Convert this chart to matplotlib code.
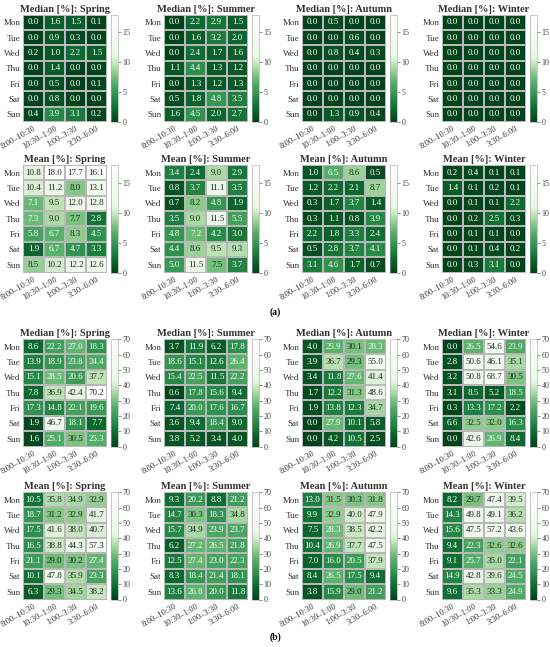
import numpy as np
import matplotlib.pyplot as plt
from matplotlib.colors import LinearSegmentedColormap, Normalize

plt.rcParams['font.family'] = ['Liberation Serif', 'DejaVu Serif']

days = ["Mon", "Tue", "Wed", "Thu", "Fri", "Sat", "Sun"]
slots = ["8:00–10:30", "10:30–1:00", "1:00–3:30", "3:30–6:00"]
seasons = ["Spring", "Summer", "Autumn", "Winter"]

# (a) median
a_median_spring = [[0.0, 1.6, 1.5, 0.1], [0.0, 0.9, 0.3, 0.0], [0.2, 1.0, 2.2, 1.5], [0.0, 1.4, 0.0, 0.0],
                   [0.0, 0.5, 0.0, 0.1], [0.0, 0.8, 0.0, 0.0], [0.4, 3.9, 3.1, 0.2]]
a_median_summer = [[0.0, 2.2, 2.9, 1.5], [0.0, 1.6, 3.2, 2.0], [0.0, 2.4, 1.7, 1.6], [1.1, 4.4, 1.3, 1.2],
                   [0.0, 1.3, 1.2, 1.3], [0.5, 1.8, 4.8, 3.5], [1.6, 4.5, 2.0, 2.7]]
a_median_autumn = [[0.0, 0.5, 0.0, 0.0], [0.0, 0.0, 0.6, 0.0], [0.0, 0.8, 0.4, 0.3], [0.0, 0.0, 0.0, 0.0],
                   [0.0, 0.0, 0.0, 0.0], [0.0, 0.0, 0.0, 0.0], [0.0, 1.3, 0.9, 0.4]]
a_median_winter = [[0.0, 0.0, 0.0, 0.0]] * 7

# (a) mean
a_mean_spring = [[10.8, 18.0, 17.7, 16.1], [10.4, 11.2, 8.0, 13.1], [7.1, 9.5, 12.0, 12.8], [7.3, 9.0, 7.7, 2.8],
                 [5.8, 6.7, 8.3, 4.5], [1.9, 6.7, 4.7, 3.3], [8.5, 10.2, 12.2, 12.6]]
a_mean_summer = [[3.4, 2.4, 9.0, 2.9], [0.8, 3.7, 11.1, 3.5], [0.7, 8.2, 4.8, 1.9], [3.5, 9.0, 11.5, 5.5],
                 [4.8, 7.2, 4.2, 3.0], [4.4, 8.6, 9.5, 9.3], [5.0, 11.5, 7.5, 3.7]]
a_mean_autumn = [[1.0, 6.5, 8.6, 0.5], [1.2, 2.2, 2.1, 8.7], [0.3, 1.7, 3.7, 1.4], [0.3, 1.1, 0.8, 3.9],
                 [2.2, 1.8, 3.3, 2.4], [0.5, 2.8, 3.7, 4.1], [3.1, 4.6, 1.7, 0.7]]
a_mean_winter = [[0.2, 0.4, 0.1, 0.1], [1.4, 0.1, 0.2, 0.1], [0.0, 0.1, 0.1, 2.2], [0.0, 0.2, 2.5, 0.3],
                 [0.0, 0.1, 0.1, 0.0], [0.0, 0.1, 0.4, 0.2], [0.0, 0.3, 3.1, 0.0]]

# (b) median
b_median_spring = [[8.6, 22.2, 27.0, 18.3], [13.9, 18.9, 23.8, 24.4], [15.1, 28.5, 20.6, 37.7], [7.8, 36.9, 42.4, 70.2],
                   [17.3, 14.8, 22.1, 19.6], [1.9, 46.7, 18.1, 7.7], [1.6, 25.1, 30.5, 25.3]]
b_median_summer = [[3.7, 11.9, 6.2, 17.8], [18.6, 15.1, 12.6, 26.4], [15.4, 22.5, 11.5, 22.2], [0.6, 17.8, 15.6, 9.4],
                   [7.4, 20.0, 17.6, 16.7], [3.6, 9.4, 18.4, 9.0], [3.8, 5.2, 3.4, 4.0]]
b_median_autumn = [[4.0, 25.9, 30.1, 28.3], [3.9, 36.7, 29.3, 55.0], [3.4, 11.8, 27.6, 41.4], [1.7, 12.2, 31.3, 48.6],
                   [1.9, 13.8, 12.3, 34.7], [0.0, 27.9, 10.1, 5.8], [0.0, 4.2, 10.5, 2.5]]
b_median_winter = [[0.0, 26.5, 54.6, 23.9], [2.8, 50.6, 46.1, 35.1], [3.2, 50.8, 68.7, 30.5], [3.1, 8.5, 5.2, 18.5],
                   [0.3, 13.3, 17.2, 2.2], [6.6, 32.5, 32.0, 16.3], [0.0, 42.6, 26.9, 8.4]]

# (b) mean
b_mean_spring = [[10.5, 35.8, 34.9, 32.9], [18.7, 31.2, 32.9, 41.7], [17.5, 41.6, 38.0, 40.7], [16.5, 38.8, 44.3, 57.3],
                 [21.1, 29.0, 30.2, 27.4], [10.1, 47.8, 35.9, 23.3], [6.3, 29.3, 34.5, 38.2]]
b_mean_summer = [[9.3, 20.2, 8.8, 21.2], [14.7, 30.3, 18.3, 34.8], [15.7, 34.9, 23.9, 23.7], [6.2, 27.2, 26.5, 21.8],
                 [12.5, 27.4, 23.0, 22.3], [8.3, 18.4, 21.4, 18.1], [13.6, 26.8, 20.0, 11.8]]
b_mean_autumn = [[13.0, 31.5, 30.3, 31.8], [9.9, 32.9, 40.0, 47.9], [7.5, 28.3, 38.5, 42.2], [10.4, 26.9, 37.7, 47.5],
                 [7.0, 16.0, 20.5, 37.9], [8.4, 26.5, 17.5, 9.4], [3.8, 15.9, 29.0, 21.2]]
b_mean_winter = [[8.2, 29.7, 47.4, 39.5], [14.3, 49.8, 49.1, 36.2], [15.6, 47.5, 57.2, 43.6], [9.4, 22.3, 32.6, 32.6],
                 [9.1, 25.7, 35.0, 22.1], [14.9, 42.8, 39.6, 24.5], [9.6, 35.3, 33.3, 24.9]]

groups = [
    ("Median", [a_median_spring, a_median_summer, a_median_autumn, a_median_winter]),
    ("Mean", [a_mean_spring, a_mean_summer, a_mean_autumn, a_mean_winter]),
    ("Median", [b_median_spring, b_median_summer, b_median_autumn, b_median_winter]),
    ("Mean", [b_mean_spring, b_mean_summer, b_mean_autumn, b_mean_winter]),
]
a_ticks = [0, 5, 10, 15]
b_ticks = [0, 10, 20, 30, 40, 50, 60, 70]

# green -> white map, white over the upper part
cmap = LinearSegmentedColormap.from_list("grw", [
    (0.0, "#00441b"), (0.12, "#0b6a30"), (0.24, "#2a8f4b"), (0.36, "#52ad68"),
    (0.45, "#86c986"), (0.53, "#bde3b7"), (0.61, "#eaf6e7"), (1.0, "#ffffff")])

W, H = 550, 647
fig = plt.figure(figsize=(W / 100, H / 100), dpi=100)

col_x = [23, 164, 302, 442]
row_top = [14.5, 165, 339, 492]
hm_w, hm_h = 84, 107.5


def lum(c):
    rgb = np.array(c[:3])
    rgb = np.where(rgb <= .03928, rgb / 12.92, ((rgb + .055) / 1.055) ** 2.4)
    return 0.2126 * rgb[0] + 0.7152 * rgb[1] + 0.0722 * rgb[2]


for r, (stat, panels) in enumerate(groups):
    if r < 2:
        vmax = max(np.max(p) for g in groups[:2] for p in g[1])
        ticks = a_ticks
    else:
        vmax = max(np.max(p) for g in groups[2:] for p in g[1])
        ticks = b_ticks
    norm = Normalize(0, vmax)
    for c, data in enumerate(panels):
        data = np.array(data)
        x0 = col_x[c]
        ax = fig.add_axes([x0 / W, 1 - (row_top[r] + hm_h) / H, hm_w / W, hm_h / H])
        cax = fig.add_axes([(x0 + 88) / W, 1 - (row_top[r] + hm_h) / H, 6.5 / W, hm_h / H])
        mesh = ax.pcolormesh(data, cmap=cmap, norm=norm, edgecolors="#b8b8b8", linewidth=0.25)
        ax.set_xlim(0, 4)
        ax.set_ylim(7, 0)
        for s in ax.spines.values():
            s.set_visible(False)
        ax.set_xticks(np.arange(4) + 0.5)
        ax.set_xticklabels(slots, rotation=30, ha="right", rotation_mode="anchor", fontsize=6)
        ax.set_yticks(np.arange(7) + 0.5)
        ax.set_yticklabels(days, fontsize=6.5)
        ax.tick_params(length=0, pad=2, colors="#333333")
        ax.set_title(f"{stat} [%]: {seasons[c]}", fontsize=7.5, fontweight="bold", pad=2, color="#333333")
        for i in range(7):
            for j in range(4):
                v = data[i, j]
                tc = "#262626" if lum(cmap(norm(v))) > .408 else "white"
                ax.text(j + 0.5, i + 0.5, f"{v:.1f}", ha="center", va="center", fontsize=6.5, color=tc)
        cb = fig.colorbar(mesh, cax=cax, ticks=ticks)
        cb.outline.set_linewidth(0.4)
        cb.outline.set_edgecolor("#a0a0a0")
        cax.tick_params(labelsize=5.8, length=2, width=0.4, pad=1.5, colors="#444444")

fig.text(275 / W, 1 - 312 / H, "(a)", ha="center", va="center", fontsize=7, fontweight="bold")
fig.text(275 / W, 1 - 637 / H, "(b)", ha="center", va="center", fontsize=7, fontweight="bold")

fig.savefig("out.png", dpi=100)
